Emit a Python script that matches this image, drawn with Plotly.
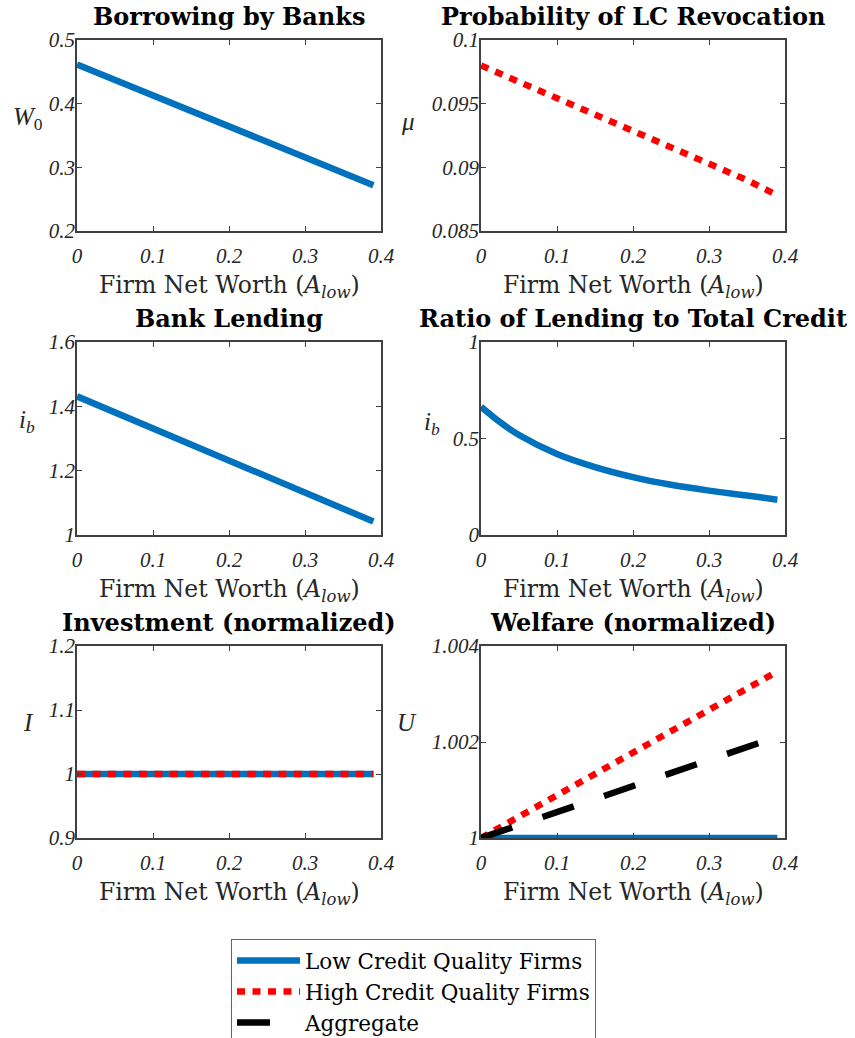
import plotly.graph_objects as go
from plotly.subplots import make_subplots

# ---------------- data ----------------
x_net_worth = [0, 0.025, 0.05, 0.10, 0.15, 0.20, 0.25, 0.30, 0.35, 0.39]
borrowing_w0 = [0.4615, 0.4494, 0.4372, 0.4129, 0.3886, 0.3643, 0.3400, 0.3157, 0.2914, 0.2720]
revocation_mu = [0.0980, 0.09735, 0.0967, 0.0954, 0.0941, 0.0929, 0.0916, 0.0903, 0.0890, 0.0878]
bank_lending_ib = [1.431, 1.406, 1.381, 1.331, 1.281, 1.231, 1.181, 1.131, 1.081, 1.042]
lending_ratio = [0.665, 0.585, 0.518, 0.420, 0.352, 0.300, 0.260, 0.230, 0.205, 0.183]
investment_low = [1, 1, 1, 1, 1, 1, 1, 1, 1, 1]
investment_high = [1, 1, 1, 1, 1, 1, 1, 1, 1, 1]
welfare_low = [1, 1, 1, 1, 1, 1, 1, 1, 1, 1]
welfare_high = [1.0, 1.000222, 1.000445, 1.00089, 1.001335, 1.00178, 1.002225, 1.00267, 1.003115, 1.00347]
welfare_agg = [1.0, 1.000135, 1.00027, 1.00054, 1.00081, 1.00108, 1.00135, 1.00162, 1.00189, 1.00211]

titles = ["Borrowing by Banks", "Probability of LC Revocation", "Bank Lending",
          "Ratio of Lending to Total Credit", "Investment (normalized)", "Welfare (normalized)"]
ylabels = ["<i>W</i><sub>0</sub>", "<i>μ</i>", "<i>i<sub>b</sub></i>", "<i>i<sub>b</sub></i>", "<i>I</i>", "<i>U</i>"]
yranges = [[0.2, 0.5], [0.085, 0.1], [1, 1.6], [0, 1], [0.9, 1.2], [1, 1.004]]
yticks_vals = [[0.2, 0.3, 0.4, 0.5], [0.085, 0.09, 0.095, 0.1], [1, 1.2, 1.4, 1.6],
               [0, 0.5, 1], [0.9, 1, 1.1, 1.2], [1, 1.002, 1.004]]
yticks_text = [["0.2", "0.3", "0.4", "0.5"], ["0.085", "0.09", "0.095", "0.1"],
               ["1", "1.2", "1.4", "1.6"], ["0", "0.5", "1"], ["0.9", "1", "1.1", "1.2"],
               ["1", "1.002", "1.004"]]
xticks_vals = [0, 0.1, 0.2, 0.3, 0.4]
xticks_text = ["0", "0.1", "0.2", "0.3", "0.4"]
xtitle = "Firm Net Worth (<i>A</i><sub><i>low</i></sub>)"
legend_names = ["Low Credit Quality Firms", "High Credit Quality Firms", "Aggregate"]

# ---------------- style ----------------
W, H = 855, 1038
BLUE, RED, BLACK = "#0072BD", "#FF0000", "#000000"
LW = 6.5
DOT = "8px,7.5px"
DASH = "33px,32px"
SERIF = "Liberation Serif"
WIDE = "DejaVu Serif"
AXC = "#404040"

col_px = [(77, 381), (481, 785)]
row_px = [(40, 231), (342, 535), (646, 838)]


def fx(px):
    return px / W


def fy(py):
    return 1 - py / H


fig = make_subplots(rows=3, cols=2)


def add(r, c, y, color, dash, name=None, show=False, shape="linear"):
    fig.add_trace(go.Scatter(x=x_net_worth, y=y, mode="lines",
                             line=dict(color=color, width=LW, dash=dash, shape=shape),
                             name=name or "", showlegend=show, legendgroup=name,
                             hoverinfo="skip"), row=r, col=c)


add(1, 1, borrowing_w0, BLUE, "solid")
add(1, 2, revocation_mu, RED, DOT)
add(2, 1, bank_lending_ib, BLUE, "solid")
add(2, 2, lending_ratio, BLUE, "solid", shape="spline")
add(3, 1, investment_low, BLUE, "solid")
add(3, 1, investment_high, RED, DOT)
add(3, 2, welfare_low, BLUE, "solid", legend_names[0], True)
add(3, 2, welfare_high, RED, DOT, legend_names[1], True)
add(3, 2, welfare_agg, BLACK, DASH, legend_names[2], True)

annotations = []
k = 0
for r in range(3):
    for c in range(2):
        idx = r * 2 + c + 1
        xa = "xaxis" if idx == 1 else f"xaxis{idx}"
        ya = "yaxis" if idx == 1 else f"yaxis{idx}"
        x0, x1 = col_px[c]
        y0, y1 = row_px[r]
        fig.layout[xa].update(
            domain=[fx(x0), fx(x1)], range=[0, 0.4], tickvals=xticks_vals, ticktext=xticks_text,
            showgrid=False, zeroline=False, showline=True, linecolor=AXC, linewidth=1.5,
            mirror="ticks", ticks="inside", ticklen=5, tickcolor=AXC, tickwidth=1,
            tickfont=dict(family=SERIF, size=21, style="italic", color="#262626"),
            ticklabelstandoff=5)
        fig.layout[ya].update(
            domain=[fy(y1), fy(y0)], range=yranges[k], tickvals=yticks_vals[k],
            ticktext=yticks_text[k],
            showgrid=False, zeroline=False, showline=True, linecolor=AXC, linewidth=1.5,
            mirror="ticks", ticks="inside", ticklen=5, tickcolor=AXC, tickwidth=1,
            tickfont=dict(family=SERIF, size=21, style="italic", color="#262626"),
            ticklabelstandoff=-4)
        cx = (x0 + x1) / 2
        annotations.append(dict(text=f"<b>{titles[k]}</b>", x=fx(cx), y=fy(y0 - 24),
                                xref="paper", yref="paper", xanchor="center", yanchor="middle",
                                showarrow=False, font=dict(family=WIDE, size=24, color="black")))
        annotations.append(dict(text=xtitle, x=fx(cx), y=fy(y1 + 55),
                                xref="paper", yref="paper", xanchor="center", yanchor="middle",
                                showarrow=False, font=dict(family=WIDE, size=23.5, color="#262626")))
        k += 1

ylabel_pos = [(28, 118), (408, 121), (27, 421), (432, 423), (29, 722), (407, 722)]
for lab, (px, py) in zip(ylabels, ylabel_pos):
    annotations.append(dict(text=lab, x=fx(px), y=fy(py), xref="paper", yref="paper",
                            xanchor="center", yanchor="middle", showarrow=False,
                            font=dict(family=SERIF, size=25, color="#262626")))

fig.update_layout(
    width=W, height=H, margin=dict(l=0, r=0, t=0, b=0, autoexpand=False),
    paper_bgcolor="white", plot_bgcolor="white",
    annotations=annotations,
    legend=dict(x=fx(231), y=fy(939), xanchor="left", yanchor="top",
                bgcolor="white", bordercolor="#666666", borderwidth=1,
                font=dict(family=WIDE, size=21.5, color="black"), itemwidth=63,
                traceorder="normal"),
)

fig.write_html("out.html", config={"displayModeBar": False},
               post_script="document.body.style.margin='0';document.body.style.overflow='hidden';")
